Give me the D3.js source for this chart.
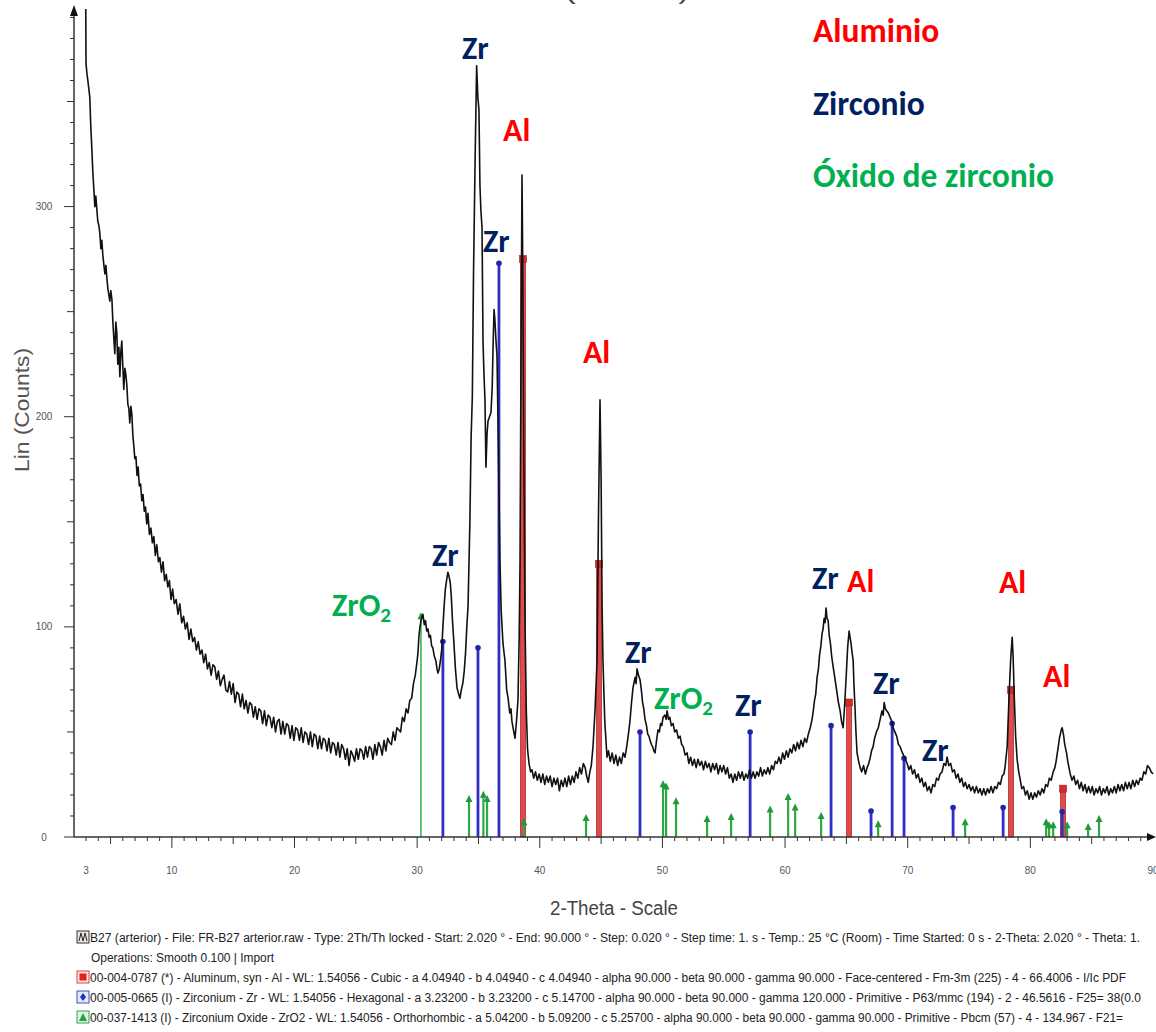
<!DOCTYPE html>
<html><head><meta charset="utf-8">
<script src="https://cdn.jsdelivr.net/npm/d3@7"></script>
<style>body{margin:0;background:#fff;} svg{display:block;}</style>
</head><body>
<svg id="c" width="1156" height="1032"></svg>
<script>
// ---------- DATA ----------
// XRD pattern: [2-theta (deg), Lin counts]
const pattern = [
[2.98,394],[3.0,368],[3.08,363],[3.15,360],[3.23,356],[3.31,352],[3.39,338],[3.47,328],[3.56,316],[3.64,308],[3.72,300],[3.8,305],[3.88,299],[3.96,293],[4.05,291],[4.13,287],[4.21,280],[4.29,284],[4.37,277],[4.46,272],[4.54,268],[4.62,272],[4.7,266],[4.78,261],[4.86,258],[4.94,255],[5.02,260],[5.11,256],[5.19,245],[5.27,237],[5.35,230],[5.43,245],[5.51,240],[5.59,225],[5.68,233],[5.76,219],[5.84,231],[5.92,236],[6.0,224],[6.08,213],[6.17,223],[6.25,220],[6.33,215],[6.41,206],[6.49,204],[6.57,197],[6.66,205],[6.74,201],[6.82,191],[6.9,186],[6.98,180],
[7.07,181],[7.16,172],[7.25,176],[7.35,167],[7.45,168],[7.55,160],[7.65,163],[7.75,155],[7.85,157],[7.95,149],[8.05,154],[8.17,144],[8.29,147],[8.41,140],[8.53,143],[8.65,134],[8.77,139],[8.9,131],[9.02,133],[9.15,126],[9.28,131],[9.41,122],[9.54,125],[9.67,119],[9.8,122],[9.93,113],[10.06,118],[10.2,111],[10.35,113],[10.5,106],[10.65,111],[10.8,102],[10.95,105],[11.1,99],[11.25,102],[11.4,94],[11.55,99],[11.7,93],[11.85,95],[12.0,89],[12.15,93],[12.3,87],
[12.45,89],[12.6,83],[12.75,87],[12.9,80],[13.05,83],[13.2,77],[13.35,82],[13.5,81],[13.65,75],[13.8,79],[13.95,72],[14.1,75],[14.25,77],[14.4,70],[14.55,69],[14.7,74],[14.85,68],[15.0,73],[15.15,64],[15.3,69],[15.45,68],[15.6,62],[15.75,68],[15.9,61],[16.05,65],[16.2,59],[16.35,64],[16.5,63],[16.65,57],[16.8,62],[16.95,56],[17.1,61],[17.25,60],[17.4,54],[17.55,60],[17.7,53],[17.85,58],[18.0,57],[18.15,52],[18.3,57],[18.45,50],[18.6,55],[18.75,56],[18.9,49],[19.05,55],[19.2,49],[19.35,54],[19.5,53],[19.65,47],[19.8,53],[19.95,46],[20.1,52],[20.25,51],[20.4,46],[20.55,52],[20.7,45],[20.85,50],[21.0,49],[21.15,44],[21.3,50],[21.45,43],[21.6,49],[21.75,48],[21.9,42],[22.05,48],[22.2,42],[22.35,47],[22.5,46],[22.65,41],[22.8,47],[22.95,40],[23.1,45],[23.25,44],[23.4,39],[23.55,45],[23.7,38],[23.85,44],[24.0,42],[24.15,37],[24.3,42],[24.45,34],[24.6,41],[24.75,39],[24.9,36],[25.05,42],[25.2,37],[25.35,42],[25.5,41],[25.65,37],[25.8,43],[25.95,38],[26.1,43],[26.25,42],[26.4,37],[26.55,44],[26.7,39],[26.85,45],[27.0,43],[27.15,39],[27.3,46],[27.45,41],[27.6,47],[27.75,45],[27.9,44],[28.05,50],[28.2,46],[28.35,52],[28.5,51],[28.65,50],[28.8,57],[28.95,55],[29.1,61],[29.25,59],[29.4,65],[29.55,66],[29.7,73],[29.85,77],[30.0,84],
[30.07,88],[30.15,96],[30.23,100],[30.35,104],[30.47,106],[30.58,101],[30.68,103],[30.78,98],[30.88,99],[30.98,95],[31.08,96],[31.18,91],[31.28,90],[31.4,86],[31.52,84],[31.62,80],[31.7,78],[31.8,80],[31.9,84],[32.0,89],[32.1,100],[32.2,110],[32.3,118],[32.42,123],[32.51,126],[32.6,124],[32.7,121],[32.78,115],[32.88,103],[33.0,92],[33.12,80],[33.25,71],[33.38,68],[33.49,66],[33.6,70],[33.72,73],[33.84,79],[33.95,88],[34.05,100],[34.15,110],[34.3,150],[34.4,190],[34.5,210],[34.6,270],[34.72,320],[34.85,367],[34.95,352],[35.04,346],[35.12,310],[35.2,298],[35.29,290],[35.37,236],[35.45,220],[35.53,208],[35.61,176],[35.7,192],[35.78,198],[35.9,200],[36.02,202],[36.12,214],[36.2,236],[36.27,251],[36.34,246],[36.43,236],[36.51,229],[36.6,195],[36.75,132],[36.85,108],[37.0,92],[37.16,84],[37.3,70],[37.42,66],[37.55,59],[37.65,61],[37.73,55],[37.85,51],[37.98,47],[38.1,55],[38.22,65],[38.32,95],[38.39,132],[38.46,220],[38.55,315],[38.62,265],[38.7,180],[38.8,100],[38.9,60],[39.0,42],[39.12,35],[39.25,31],
[39.36,32],[39.5,28],[39.65,31],[39.8,27],[39.95,30],[40.1,26],[40.25,30],[40.4,25],[40.55,29],[40.7,26],[40.85,29],[41.0,24],[41.15,28],[41.3,25],[41.45,28],[41.6,22],[41.75,27],[41.9,24],[42.05,28],[42.2,24],[42.35,29],[42.5,25],[42.65,29],[42.8,26],[42.95,31],[43.1,28],[43.25,33],[43.4,30],[43.55,35],[43.7,33],[43.82,29],[43.95,26],[44.08,31],[44.2,34],[44.34,43],[44.5,60],[44.67,84],[44.78,150],[44.91,208],[45.0,170],[45.08,110],[45.15,84],[45.3,55],[45.48,38],[45.6,41],[45.75,36],[45.9,40],[46.05,35],[46.2,39],[46.35,34],[46.5,38],[46.65,35],[46.8,40],[46.95,38],[47.11,44],[47.25,50],[47.35,55],[47.48,64],[47.6,71],[47.7,74],[47.78,76],[47.85,73],[47.93,80],[48.05,77],[48.17,75],[48.28,70],[48.38,64],[48.48,61],[48.58,56],[48.7,53],[48.8,49],[48.9,48],[48.99,46],[49.1,44],[49.2,43],[49.3,41],[49.4,40],[49.52,46],[49.64,51],[49.75,50],[49.85,54],[49.95,53],[50.05,57],[50.2,58],[50.3,56],[50.38,60],[50.5,56],[50.6,57],[50.72,53],[50.87,54],[51.0,50],[51.15,51],[51.3,47],[51.44,48],[51.57,44],[51.7,43],[51.85,39],[52.01,40],[52.15,35],[52.3,38],[52.45,34],[52.6,37],[52.75,33],[52.9,37],[53.05,34],[53.2,36],[53.35,32],[53.5,36],[53.65,33],[53.8,35],[53.95,31],[54.1,35],[54.25,32],[54.4,35],[54.55,30],[54.7,34],[54.85,31],[55.0,34],[55.15,30],[55.3,33],[55.45,28],[55.6,30],[55.75,26],[55.9,30],[56.05,27],[56.2,31],[56.35,28],[56.5,31],[56.65,27],[56.8,30],[56.95,28],[57.1,32],[57.25,28],[57.4,31],[57.55,28],[57.7,31],[57.85,29],[58.0,33],[58.15,29],[58.3,32],[58.45,30],[58.6,33],[58.75,30],[58.9,34],[59.05,32],[59.2,36],[59.35,35],[59.5,38],[59.65,35],[59.8,40],[59.95,37],[60.1,41],[60.25,38],[60.4,42],[60.55,40],[60.7,44],[60.85,41],[61.0,45],[61.15,42],[61.3,46],[61.45,43],[61.6,47],[61.75,45],[61.9,49],[62.05,52],[62.2,56],[62.3,60],[62.4,65],[62.5,68],[62.61,76],[62.72,80],[62.82,87],[62.92,91],[63.02,97],[63.1,99],[63.18,104],[63.26,102],[63.34,109],[63.42,104],[63.51,103],[63.6,96],[63.7,92],[63.8,86],[63.92,81],[64.05,76],[64.2,70],[64.35,64],[64.49,60],[64.6,55],[64.73,52],[64.85,62],[64.98,76],[65.1,90],[65.22,98],[65.3,95],[65.38,92],[65.46,88],[65.55,84],[65.62,72],[65.7,62],[65.78,50],[65.87,40],[66.0,36],[66.12,33],[66.25,31],[66.4,34],[66.55,30],[66.69,33],[66.82,35],[66.95,38],[67.05,41],[67.18,43],[67.3,47],[67.45,50],[67.6,52],[67.75,56],[67.9,60],[68.0,58],[68.08,64],[68.18,61],[68.3,60],[68.42,59],[68.56,57],[68.7,55],[68.82,52],[68.95,50],[69.1,48],[69.25,44],[69.38,43],[69.5,41],[69.65,39],[69.8,37],
[69.95,35],[70.1,32],[70.25,34],[70.4,30],[70.55,32],[70.7,28],[70.85,30],[71.0,26],[71.15,28],[71.3,24],[71.45,26],[71.6,22],[71.75,24],[71.9,21],[72.05,25],[72.2,24],[72.35,28],[72.5,27],[72.64,30],[72.8,31],[72.95,35],[73.1,34],[73.21,38],[73.35,34],[73.5,35],[73.65,31],[73.8,32],[73.95,28],[74.1,30],[74.25,26],[74.4,28],[74.55,24],[74.7,26],[74.85,23],[75.0,25],[75.15,22],[75.3,24],[75.45,21],[75.6,24],[75.75,21],[75.9,23],[76.05,20],[76.2,23],[76.35,20],[76.5,23],[76.65,21],[76.8,24],[76.95,21],[77.1,24],[77.25,23],[77.4,26],[77.55,25],[77.7,29],[77.85,30],[77.95,34],[78.11,43],[78.27,68],[78.4,85],[78.52,95],[78.6,85],[78.68,68],[78.8,48],[78.92,37],[79.05,31],
[79.15,28],[79.3,23],[79.45,24],[79.6,20],[79.75,22],[79.9,18],[80.05,21],[80.2,18],[80.35,21],[80.5,19],[80.65,22],[80.8,20],[80.95,23],[81.1,21],[81.25,25],[81.4,24],[81.55,28],[81.7,27],[81.86,31],[82.0,33],[82.1,36],[82.2,40],[82.28,43],[82.37,47],[82.45,49],[82.52,51],[82.59,52],[82.66,50],[82.72,48],[82.78,45],[82.84,43],[82.95,40],[83.05,36],[83.15,33],
[83.25,30],[83.4,27],[83.55,29],[83.7,25],[83.85,27],[84.0,23],[84.15,26],[84.3,22],[84.45,25],[84.6,21],[84.75,24],[84.9,21],[85.05,24],[85.2,20],[85.35,23],[85.5,21],[85.65,24],[85.8,20],[85.95,23],[86.1,21],[86.25,24],[86.4,20],[86.55,23],[86.7,21],[86.85,24],[87.0,21],[87.15,25],[87.3,22],[87.45,25],[87.6,22],[87.75,26],[87.9,23],[88.05,26],[88.2,23],[88.35,27],[88.5,24],[88.65,27],[88.8,25],[88.95,28],[89.1,27],[89.25,31],[89.4,30],[89.55,34],[89.7,33],[89.85,31],[90.0,30]
];
// Reference sticks [2-theta, intensity]
const aluminumSticks = [[38.63,275],[44.83,130],[65.22,64],[78.43,70],[82.67,23]];
const zirconiumSticks = [[32.10,93],[34.96,90],[36.67,273],[48.17,50],[57.15,50],[63.75,53],[67.01,12.4],[68.73,54],[69.7,37.5],[73.7,14],[77.78,14],[82.59,12]];
const zirconiaSticks = [[30.31,106],[34.23,19],[35.4,21],[35.7,19],[38.71,8],[43.77,10],[50.05,26],[50.3,25],[51.11,18],[53.64,9.5],[55.6,10.5],[58.78,14],[60.25,20],[60.82,15],[62.94,11],[67.59,7],[74.68,8],[81.29,8],[81.53,6.5],[81.86,6.5],[83.0,6.5],[84.71,5.7],[85.6,9.5]];
const xTickLabels = [3,10,20,30,40,50,60,70,80,90];
const yTickLabels = [0,100,200,300];
// Peak annotations: text, phase, 2-theta, counts (left / vertical-centre anchor)
const peakLabels = [
  ["Zr","Zr",33.66,375.5],["Al","Al",37.0,336.4],["Zr","Zr",35.37,283.6],["Al","Al",43.52,230.8],
  ["Zr","Zr",31.21,134.2],["ZrO","ZrO2",23.06,110.4],["Zr","Zr",46.95,88.0],["ZrO","ZrO2",49.31,66.1],
  ["Zr","Zr",55.92,62.8],["Zr","Zr",62.2,123.3],["Al","Al",65.05,121.8],["Zr","Zr",67.17,73.3],
  ["Al","Al",77.44,121.3],["Zr","Zr",71.16,41.4],["Al","Al",81.03,76.6]
];
const legendNames = ["Aluminio","Zirconio","Óxido de zirconio"];
const legendPhases = ["Al","Zr","ZrO2"];
const infoLines = [
  "B27 (arterior) - File: FR-B27 arterior.raw - Type: 2Th/Th locked - Start: 2.020 ° - End: 90.000 ° - Step: 0.020 ° - Step time: 1. s - Temp.: 25 °C (Room) - Time Started: 0 s - 2-Theta: 2.020 ° - Theta: 1.",
  "Operations: Smooth 0.100 | Import",
  "00-004-0787 (*) - Aluminum, syn - Al - WL: 1.54056 - Cubic - a 4.04940 - b 4.04940 - c 4.04940 - alpha 90.000 - beta 90.000 - gamma 90.000 - Face-centered - Fm-3m (225) - 4 - 66.4006 - I/Ic PDF",
  "00-005-0665 (I) - Zirconium - Zr - WL: 1.54056 - Hexagonal - a 3.23200 - b 3.23200 - c 5.14700 - alpha 90.000 - beta 90.000 - gamma 120.000 - Primitive - P63/mmc (194) - 2 - 46.5616 - F25= 38(0.0",
  "00-037-1413 (I) - Zirconium Oxide - ZrO2 - WL: 1.54056 - Orthorhombic - a 5.04200 - b 5.09200 - c 5.25700 - alpha 90.000 - beta 90.000 - gamma 90.000 - Primitive - Pbcm (57) - 4 - 134.967 - F21="
];

// ---------- LAYOUT ----------
const svg = d3.select("#c");
const x = d3.scaleLinear().domain([2.02, 90]).range([74, 1153]);
const y = d3.scaleLinear().domain([0, 394.5]).range([837, 8]);
const phaseColor = {Al:"#ff0000", Zr:"#002060", ZrO2:"#00b050"};
const labelFont = "Carlito, Lato, 'Open Sans', sans-serif";
const narrowFont = "'Liberation Sans Narrow','Arial Narrow','Liberation Sans',Arial,sans-serif";

svg.append("defs").append("clipPath").attr("id","plotclip")
  .append("rect").attr("x",74).attr("y",6).attr("width",1082).attr("height",832);

// clipped title fragment at the very top (as in the cropped original)
svg.append("text").attr("x",565).attr("y",-1).attr("font-family","'Liberation Sans',Arial,sans-serif")
  .attr("font-size",22).attr("fill","#444").attr("textLength",124).attr("lengthAdjust","spacingAndGlyphs")
  .text("(arterior)");

// ---- sticks ----
const gSticks = svg.append("g");
const gAl = gSticks.append("g");
aluminumSticks.forEach(([v,c])=>{
  gAl.append("rect").attr("x",x(v)-2.5).attr("y",y(c)).attr("width",5).attr("height",y(0)-y(c))
    .attr("fill","#e04a4a").attr("stroke","#a83030").attr("stroke-width",0.8);
  gAl.append("rect").attr("x",x(v)-3.5).attr("y",y(c)-3.5).attr("width",7).attr("height",7)
    .attr("fill","#d42a2a").attr("stroke","#a02020").attr("stroke-width",0.6);
});
const gZr = gSticks.append("g");
zirconiumSticks.forEach(([v,c])=>{
  gZr.append("line").attr("x1",x(v)).attr("x2",x(v)).attr("y1",y(c)).attr("y2",y(0))
    .attr("stroke","#2f2fc4").attr("stroke-width",2.8);
  gZr.append("circle").attr("cx",x(v)).attr("cy",y(c)).attr("r",2.8).attr("fill","#2222b0");
});
const gZo = gSticks.append("g");
zirconiaSticks.forEach(([v,c],i)=>{
  const X = x(v), T = y(c);
  gZo.append("line").attr("x1",X).attr("x2",X).attr("y1",T+2).attr("y2",y(0))
    .attr("stroke", i===0 ? "#3cb454" : "#2ea845").attr("stroke-width", i===0 ? 1.6 : 2.2);
  gZo.append("path").attr("d",`M${X-3.5},${T+5}L${X+3.5},${T+5}L${X},${T-2}Z`).attr("fill","#229a3a");
});

// ---- pattern curve ----
const line = d3.line().x(d=>x(d[0])).y(d=>y(d[1]));
svg.append("path").datum(pattern).attr("clip-path","url(#plotclip)")
  .attr("d",line).attr("fill","none").attr("stroke","#111").attr("stroke-width",1.6)
  .attr("stroke-linejoin","round");

// ---- axes ----
const axisColor = "#333";
const gx = svg.append("g");
gx.selectAll("line.t").data(d3.range(3,90,1)).join("line")
  .attr("x1",d=>x(d)).attr("x2",d=>x(d)).attr("y1",y(0))
  .attr("y2",d=> y(0) + (d%10===0 ? 11 : (d%5===0 ? 7 : 4)))
  .attr("stroke",axisColor).attr("stroke-width",1);
gx.append("line").attr("x1",x(2.02)).attr("x2",x(90)-2).attr("y1",y(0)).attr("y2",y(0))
  .attr("stroke",axisColor).attr("stroke-width",1.5);
gx.append("path").attr("d",`M${x(90)+3},${y(0)}L${x(90)-6},${y(0)-4}L${x(90)-6},${y(0)+4}Z`).attr("fill","#111");
gx.selectAll("text").data(xTickLabels).join("text")
  .attr("x",d=>x(d)).attr("y",874).attr("text-anchor","middle")
  .attr("font-family",narrowFont).attr("font-size",10).attr("fill","#555").text(d=>d);

const gy = svg.append("g");
gy.selectAll("line.t").data(d3.range(0,391,10)).join("line")
  .attr("y1",d=>y(d)).attr("y2",d=>y(d)).attr("x1",x(2.02))
  .attr("x2",d=> x(2.02) - (d%100===0 ? 10 : (d%50===0 ? 7 : 4)))
  .attr("stroke",axisColor).attr("stroke-width",1);
gy.append("line").attr("x1",x(2.02)).attr("x2",x(2.02)).attr("y1",y(0)).attr("y2",14)
  .attr("stroke",axisColor).attr("stroke-width",1.5);
gy.append("path").attr("d",`M${x(2.02)},5L${x(2.02)-4},16L${x(2.02)+4},16Z`).attr("fill","#111");
gy.selectAll("text").data(yTickLabels).join("text")
  .attr("x",44).attr("y",d=>y(d)+3.5).attr("text-anchor","middle")
  .attr("font-family",narrowFont).attr("font-size",10).attr("fill","#555").text(d=>d);

// axis titles
svg.append("text").attr("transform","translate(29,410) rotate(-90)").attr("text-anchor","middle")
  .attr("font-family","'Liberation Sans',Arial,sans-serif").attr("font-size",21).attr("fill","#555")
  .attr("textLength",124).attr("lengthAdjust","spacingAndGlyphs")
  .text("Lin (Counts)");
svg.append("text").attr("x",614).attr("y",915).attr("text-anchor","middle")
  .attr("font-family","'Liberation Sans',Arial,sans-serif").attr("font-size",20).attr("fill","#444")
  .attr("textLength",128).attr("lengthAdjust","spacingAndGlyphs")
  .text("2-Theta - Scale");

// ---- peak labels ----
const gLab = svg.append("g").attr("font-family",labelFont).attr("font-weight","bold").attr("font-size",32);
peakLabels.forEach(([t,ph,v,c])=>{
  const tx = gLab.append("text").attr("x",x(v)).attr("y",y(c)+11).attr("fill",phaseColor[ph]).text(t);
  if(ph==="ZrO2") tx.append("tspan").attr("font-size",21).attr("dy",6).text("2");
});

// ---- phase legend (top right) ----
const gLeg = svg.append("g").attr("font-family",labelFont).attr("font-weight","bold").attr("font-size",33.5);
legendNames.forEach((n,i)=>{
  gLeg.append("text").attr("x",813).attr("y",42 + i*72.5).attr("fill",phaseColor[legendPhases[i]]).text(n);
});

// ---- info lines (bottom) ----
const lineY = [937,957,977,997,1017];
const lineX = [90,91,90,90,90];
const lineEnd = [1140,274,1126,1141,1123];
const gInfo = svg.append("g").attr("font-family",narrowFont).attr("font-size",12.5).attr("fill","#222");
infoLines.forEach((t,i)=>{
  gInfo.append("text").attr("x",lineX[i]).attr("y",lineY[i]+4.5)
    .attr("textLength",lineEnd[i]-lineX[i]).attr("lengthAdjust","spacingAndGlyphs").text(t);
});
const ic = svg.append("g");
ic.append("rect").attr("x",77).attr("y",lineY[0]-6).attr("width",12).attr("height",12).attr("fill","#e8e8e8").attr("stroke","#333").attr("stroke-width",1);
ic.append("path").attr("d",`M79,${lineY[0]+4}L81,${lineY[0]-4}L83,${lineY[0]+4}L85,${lineY[0]-4}L87,${lineY[0]+4}`).attr("fill","none").attr("stroke","#222").attr("stroke-width",1);
ic.append("rect").attr("x",77).attr("y",lineY[2]-6).attr("width",12).attr("height",12).attr("fill","#fbe0e0").attr("stroke","#d04a4a").attr("stroke-width",1);
ic.append("rect").attr("x",79.5).attr("y",lineY[2]-3.5).attr("width",7).attr("height",7).attr("fill","#e02020");
ic.append("rect").attr("x",77).attr("y",lineY[3]-6).attr("width",12).attr("height",12).attr("fill","#e6e8fb").attr("stroke","#4050c0").attr("stroke-width",1);
ic.append("path").attr("d",`M83,${lineY[3]-4}L86,${lineY[3]}L83,${lineY[3]+4}L80,${lineY[3]}Z`).attr("fill","#2030c0");
ic.append("rect").attr("x",77).attr("y",lineY[4]-6).attr("width",12).attr("height",12).attr("fill","#dff3e2").attr("stroke","#3aa050").attr("stroke-width",1);
ic.append("path").attr("d",`M83,${lineY[4]-4}L87,${lineY[4]+4}L79,${lineY[4]+4}Z`).attr("fill","#20a040");
</script>
</body></html>
